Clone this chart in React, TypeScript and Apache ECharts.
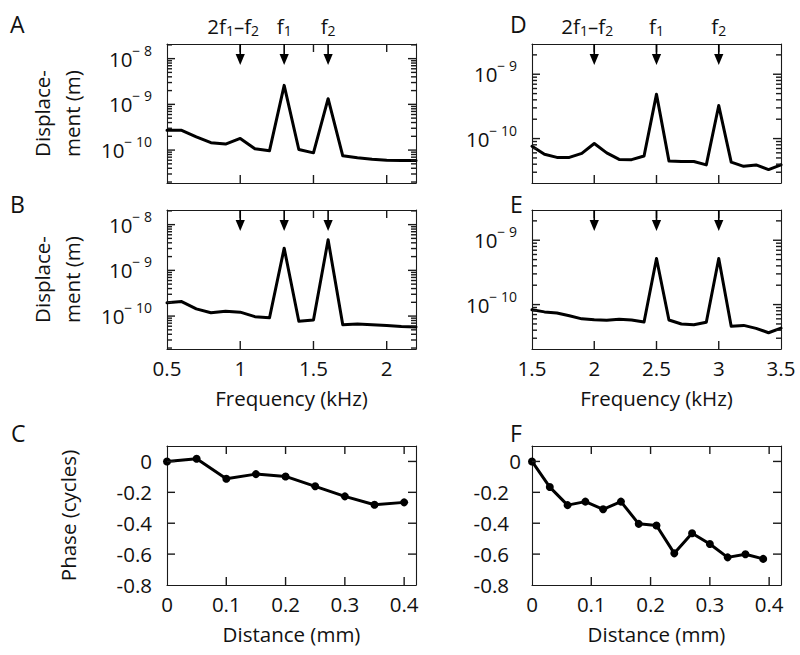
import React, { useEffect, useRef } from 'react';
import * as echarts from 'echarts';

// ---------- data ----------
const freqAB = [0.5, 0.6, 0.7, 0.8, 0.9, 1.0, 1.1, 1.2, 1.3, 1.4, 1.5, 1.6, 1.7, 1.8, 1.9, 2.0, 2.1, 2.2];
const dispA = [2.7e-10, 2.7e-10, 1.95e-10, 1.45e-10, 1.35e-10, 1.8e-10, 1.07e-10, 9.7e-11, 2.6e-9, 1.03e-10, 8.7e-11, 1.33e-9, 7.5e-11, 6.8e-11, 6.3e-11, 6.0e-11, 5.9e-11, 5.9e-11];
const dispB = [1.95e-10, 2.08e-10, 1.44e-10, 1.18e-10, 1.28e-10, 1.22e-10, 9.7e-11, 9.2e-11, 3.06e-9, 7.7e-11, 8.2e-11, 4.65e-9, 6.5e-11, 6.7e-11, 6.5e-11, 6.2e-11, 5.9e-11, 5.8e-11];

const freqDE = [1.5, 1.6, 1.7, 1.8, 1.9, 2.0, 2.1, 2.2, 2.3, 2.4, 2.5, 2.6, 2.7, 2.8, 2.9, 3.0, 3.1, 3.2, 3.3, 3.4, 3.5];
const dispD = [7.6e-11, 5.7e-11, 5.1e-11, 5.1e-11, 5.9e-11, 8.4e-11, 6.0e-11, 4.75e-11, 4.7e-11, 5.35e-11, 4.9e-10, 4.5e-11, 4.4e-11, 4.4e-11, 3.9e-11, 3.26e-10, 4.3e-11, 3.7e-11, 3.9e-11, 3.3e-11, 3.9e-11];
const dispE = [8.3e-11, 7.7e-11, 7.4e-11, 6.7e-11, 6.0e-11, 5.8e-11, 5.7e-11, 5.9e-11, 5.75e-11, 5.35e-11, 5.2e-10, 5.75e-11, 5.0e-11, 4.87e-11, 5.3e-11, 5.2e-10, 4.6e-11, 4.75e-11, 4.27e-11, 3.65e-11, 4.3e-11];

const distC = [0, 0.05, 0.1, 0.15, 0.2, 0.25, 0.3, 0.35, 0.4];
const phaseC = [0, 0.017, -0.112, -0.082, -0.097, -0.161, -0.226, -0.28, -0.265];
const distF = [0, 0.03, 0.06, 0.09, 0.12, 0.15, 0.18, 0.21, 0.24, 0.27, 0.3, 0.33, 0.36, 0.39];
const phaseF = [0, -0.166, -0.283, -0.26, -0.31, -0.26, -0.404, -0.415, -0.595, -0.465, -0.535, -0.621, -0.601, -0.631];

const arrowsAB = [1.0, 1.3, 1.6];
const arrowsDE = [2.0, 2.5, 3.0];
const arrowLabels = ['{b|2f}{s|1}{b|\u2013f}{s|2}', '{b|f}{s|1}', '{b|f}{s|2}'];
const panelLetters = ['A', 'B', 'C', 'D', 'E', 'F'];

// axis ranges and tick values
const freqRangeAB = [0.5, 2.2];
const freqRangeDE = [1.5, 3.5];
const freqInterval = 0.5;
const freqTicksAB = [1, 1.5, 2];
const freqTicksDE = [2, 2.5, 3];
const distRange = [0, 0.42];
const distInterval = 0.1;
const distTicks = [0.1, 0.2, 0.3, 0.4];
const phaseRange = [-0.8, 0.1];
const phaseInterval = 0.2;
const phaseTicks = [-0.6, -0.4, -0.2, 0];
const logRangeAB = [1.905e-11, 2.09e-8];
const logRangeDE = [2.04e-11, 2.95e-9];
const logTicksAB = [1e-10, 1e-9, 1e-8];
const logTicksDE = [1e-10, 1e-9];
const minorMantissas = [2, 3, 4, 5, 6, 7, 8, 9];
const decades = [-11, -10, -9, -8];

// ---------- style ----------
const FONT = '"Open Sans", "Noto Sans", sans-serif';
const FS = 20.5;
const INK = '#111';
const FRAME = '#1a1a1a';
const GRID_LEFT = [167, 532];
const GRID_TOP = [44, 210, 446];
const GW = 249;
const GH = 139;
const MAJOR_LEN = 8;
const MINOR_LEN = 5;
const TICK_W = 1.4;
const labelOffsets = [-7, 0, 0];
const letterPos = [[10, 24], [10, 204], [11, 433], [510, 24], [510, 204], [510, 433]];

const baseText = { fontFamily: FONT, fontSize: FS, color: INK };
const axisLine = () => ({ show: true, onZero: false, lineStyle: { color: FRAME, width: 1.1 } });
const noTick = { show: false };
const noSplit = { show: false };

function minorValues(range: number[]) {
  const out: number[] = [];
  decades.forEach((d) => minorMantissas.forEach((m) => {
    const v = m * Math.pow(10, d);
    if (v > range[0] && v < range[1]) out.push(v);
  }));
  return out;
}

function logLabel(v: number) {
  const e = Math.round(Math.log10(v));
  return `{b|10}{s|\u2212 ${-e}}`;
}

const logRich = {
  b: { fontFamily: FONT, fontSize: FS, color: INK, lineHeight: 21, verticalAlign: 'bottom' },
  s: { fontFamily: FONT, fontSize: 14, color: INK, lineHeight: 15, verticalAlign: 'bottom', padding: [0, 0, 12, 0] },
};

function phaseLabelF(v: number) {
  if (Math.abs(v) < 1e-9) return '{z|0}';
  return `{n|${v.toFixed(1)}}`;
}
const phaseRichF = {
  z: { fontFamily: FONT, fontSize: FS, color: INK },
  n: { fontFamily: FONT, fontSize: FS, color: INK, padding: [0, 12, 0, 0] },
};

function buildOption() {
  const grids: any[] = [];
  const xBottom: any[] = [];
  const xTop: any[] = [];
  const yLeft: any[] = [];
  const yRight: any[] = [];
  const series: any[] = [];

  for (let col = 0; col < 2; col++) {
    for (let row = 0; row < 3; row++) {
      grids.push({ left: GRID_LEFT[col], top: GRID_TOP[row], width: GW, height: GH, containLabel: false, outerBoundsMode: 'none' });
    }
  }

  // grid indices: 0 A, 1 B, 2 C, 3 D, 4 E, 5 F
  const cfg = [
    { xr: freqRangeAB, xi: freqInterval, xt: freqTicksAB, xl: false, xname: '', hideMax: true, log: logRangeAB, yt: logTicksAB, yname: 'Displace-\nment (m)' },
    { xr: freqRangeAB, xi: freqInterval, xt: freqTicksAB, xl: true, xname: 'Frequency (kHz)', hideMax: true, log: logRangeAB, yt: logTicksAB, yname: 'Displace-\nment (m)' },
    { xr: distRange, xi: distInterval, xt: distTicks, xl: true, xname: 'Distance (mm)', hideMax: true, log: null, yt: phaseTicks, yname: 'Phase (cycles)' },
    { xr: freqRangeDE, xi: freqInterval, xt: freqTicksDE, xl: false, xname: '', hideMax: false, log: logRangeDE, yt: logTicksDE, yname: '' },
    { xr: freqRangeDE, xi: freqInterval, xt: freqTicksDE, xl: true, xname: 'Frequency (kHz)', hideMax: false, log: logRangeDE, yt: logTicksDE, yname: '' },
    { xr: distRange, xi: distInterval, xt: distTicks, xl: true, xname: 'Distance (mm)', hideMax: true, log: null, yt: phaseTicks, yname: '' },
  ];

  cfg.forEach((c, g) => {
    xBottom.push({
      type: 'value', gridIndex: g, position: 'bottom', min: c.xr[0], max: c.xr[1], interval: c.xi,
      axisLine: axisLine(), axisTick: noTick, splitLine: noSplit,
      axisLabel: { show: c.xl, ...baseText, margin: 8, lineHeight: 21, showMaxLabel: !c.hideMax },
      name: c.xname, nameLocation: 'middle', nameGap: 36,
      nameTextStyle: { ...baseText, lineHeight: 25 },
    });
    xTop.push({
      type: 'value', gridIndex: g, position: 'top', min: c.xr[0], max: c.xr[1], interval: c.xi,
      axisLine: axisLine(), axisTick: noTick, splitLine: noSplit, axisLabel: { show: false },
    });
    if (c.log) {
      yLeft.push({
        type: 'log', logBase: 10, gridIndex: g, position: 'left', min: c.log[0], max: c.log[1],
        axisLine: axisLine(), axisTick: noTick, splitLine: noSplit, minorTick: { show: false }, minorSplitLine: { show: false },
        axisLabel: { show: true, showMinLabel: false, showMaxLabel: false, margin: 15, formatter: logLabel, rich: logRich, fontFamily: FONT, color: INK },
        name: c.yname, nameLocation: 'middle', nameRotate: 90, nameGap: 80,
        nameTextStyle: { ...baseText, lineHeight: 30 },
      });
      yRight.push({
        type: 'log', logBase: 10, gridIndex: g, position: 'right', min: c.log[0], max: c.log[1],
        axisLine: axisLine(), axisTick: noTick, splitLine: noSplit, axisLabel: { show: false },
      });
    } else {
      const isF = g === 5;
      yLeft.push({
        type: 'value', gridIndex: g, position: 'left', min: phaseRange[0], max: phaseRange[1], interval: phaseInterval,
        axisLine: axisLine(), axisTick: noTick, splitLine: noSplit,
        axisLabel: isF
          ? { show: true, ...baseText, margin: 11, showMaxLabel: false, formatter: phaseLabelF, rich: phaseRichF }
          : { show: true, ...baseText, margin: 15, showMaxLabel: false },
        name: c.yname, nameLocation: 'middle', nameRotate: 90, nameGap: 87,
        nameTextStyle: { ...baseText, lineHeight: 24 },
      });
      yRight.push({
        type: 'value', gridIndex: g, position: 'right', min: phaseRange[0], max: phaseRange[1], interval: phaseInterval,
        axisLine: axisLine(), axisTick: noTick, splitLine: noSplit, axisLabel: { show: false },
      });
    }

    // inward ticks on all four sides, placed through the axes' own scales
    const xRef = c.xr[0];
    const yRef = c.log ? c.log[0] : phaseRange[0];
    const minors = c.log ? minorValues(c.log) : [];
    const xt = c.xt;
    const yt = c.yt;
    series.push({
      type: 'custom', xAxisIndex: g, yAxisIndex: g, silent: true, clip: false, z: 4,
      data: [[xRef, yRef]],
      renderItem: (params: any, api: any) => {
        const cs = params.coordSys;
        const children: any[] = [];
        const st = () => ({ stroke: FRAME, lineWidth: TICK_W });
        const left = cs.x, right = cs.x + cs.width, top = cs.y, bottom = cs.y + cs.height;
        xt.forEach((v: number) => {
          const x = api.coord([v, yRef])[0];
          children.push({ type: 'line', shape: { x1: x, y1: bottom, x2: x, y2: bottom - MAJOR_LEN }, style: st() });
          children.push({ type: 'line', shape: { x1: x, y1: top, x2: x, y2: top + MAJOR_LEN }, style: st() });
        });
        const hTick = (v: number, len: number) => {
          const y = api.coord([xRef, v])[1];
          children.push({ type: 'line', shape: { x1: left, y1: y, x2: left + len, y2: y }, style: st() });
          children.push({ type: 'line', shape: { x1: right - len, y1: y, x2: right, y2: y }, style: st() });
        };
        yt.forEach((v: number) => hTick(v, MAJOR_LEN));
        minors.forEach((v: number) => hTick(v, MINOR_LEN));
        return { type: 'group', children };
      },
    });
  });

  const addLine = (g: number, xs: number[], ys: number[], markers: boolean) => {
    series.push({
      type: 'line', xAxisIndex: g, yAxisIndex: g, data: xs.map((x, i) => [x, ys[i]]),
      showSymbol: markers, symbol: markers ? 'circle' : 'none', symbolSize: 8,
      itemStyle: { color: '#000' }, lineStyle: { color: '#000', width: 3, join: 'round', cap: 'round' }, silent: true, z: 3,
    });
  };
  addLine(0, freqAB, dispA, false);
  addLine(1, freqAB, dispB, false);
  addLine(2, distC, phaseC, true);
  addLine(3, freqDE, dispD, false);
  addLine(4, freqDE, dispE, false);
  addLine(5, distF, phaseF, true);

  const addArrows = (g: number, xs: number[], yRef: number, withLabels: boolean) => {
    series.push({
      type: 'custom', xAxisIndex: g, yAxisIndex: g, silent: true, clip: false, z: 5,
      data: xs.map((x) => [x, yRef]),
      renderItem: (params: any, api: any) => {
        const cs = params.coordSys;
        const x = api.coord([api.value(0), api.value(1)])[0];
        const top = cs.y;
        const children: any[] = [
          { type: 'line', shape: { x1: x, y1: top, x2: x, y2: top + 11 }, style: { stroke: '#000', lineWidth: 1.6 } },
          { type: 'polygon', shape: { points: [[x - 4.6, top + 10], [x + 4.6, top + 10], [x, top + 21]] }, style: { fill: '#000' } },
        ];
        if (withLabels) {
          children.push({
            type: 'text', x: x + labelOffsets[params.dataIndex], y: top - 29,
            style: {
              text: arrowLabels[params.dataIndex], align: 'center', verticalAlign: 'top',
              fontFamily: FONT, fontSize: FS, fill: INK,
              rich: {
                b: { fontFamily: FONT, fontSize: FS, fill: INK, lineHeight: 21, verticalAlign: 'top' },
                s: { fontFamily: FONT, fontSize: 14, fill: INK, lineHeight: 15, verticalAlign: 'top', padding: [8, 0, 0, 0] },
              },
            },
          });
        }
        return { type: 'group', children };
      },
    });
  };
  addArrows(0, arrowsAB, 1e-9, true);
  addArrows(1, arrowsAB, 1e-9, false);
  addArrows(3, arrowsDE, 1e-9, true);
  addArrows(4, arrowsDE, 1e-9, false);

  const graphic = panelLetters.map((t, i) => ({
    type: 'text', x: letterPos[i][0], y: letterPos[i][1],
    style: { text: t, fontFamily: FONT, fontSize: 23, lineHeight: 23, fill: INK, verticalAlign: 'middle', align: 'left' },
  }));

  return {
    animation: false,
    backgroundColor: '#fff',
    grid: grids,
    xAxis: [...xBottom, ...xTop],
    yAxis: [...yLeft, ...yRight],
    series,
    graphic,
  };
}

export default function App() {
  const ref = useRef<HTMLDivElement>(null);
  useEffect(() => {
    const chart = echarts.init(ref.current as HTMLDivElement, null, { renderer: 'svg' });
    chart.setOption(buildOption() as any);
    return () => chart.dispose();
  }, []);
  return <div ref={ref} style={{ position: 'fixed', left: 0, top: 0, width: 800, height: 655, background: '#fff' }} />;
}
